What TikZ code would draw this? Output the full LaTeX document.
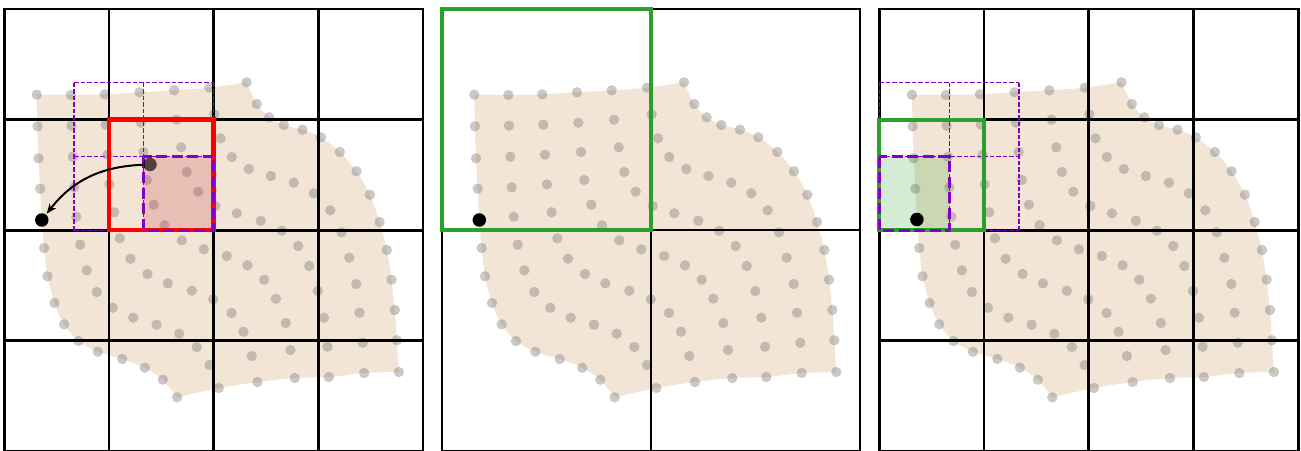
\documentclass[tikz,border=0pt]{standalone}
\usetikzlibrary{arrows.meta}
\definecolor{beige}{RGB}{243,229,213}
\definecolor{mutedred}{RGB}{190,40,50}
\definecolor{tabgreen}{RGB}{44,160,44}
\definecolor{dviolet}{RGB}{130,0,200}
\newcommand\blobdots{(474.3,94.7),(508.3,95),(542.3,94.3),(577,92.3),(611.7,90.3),(647,87.7),(684,82.3),
(475,126.3),(509,125.7),(543.3,124.7),(578.3,122.7),(614,119.7),(651.7,114.3),(694.3,104),
(476,158.3),(510.3,156.7),(545,154.7),(581,152),(618.7,147.3),(658,138.3),(706.7,117.3),
(477.7,188.7),(511.7,187.3),(547,184.3),(584.3,180),(624.3,172),(669.3,157),(721.3,125),
(479.3,220),(513.7,216.7),(551.7,212.3),(591.3,204.7),(635.7,191.7),(686.3,169),(740,129.7),
(481.7,248),(517.7,244.7),(557.3,238.3),(602,225.3),(652.7,206),(708.3,176),(758.3,137.3),
(485,276.3),(524.3,270.3),(568,258.7),(619.3,240.3),(674.3,213.3),(731.3,182.7),(777.3,152),
(492,303),(534.3,292),(585,274),(641.3,249.3),(698.3,220.7),(751.3,193.3),(794,171.3),
(501.7,324.3),(550.3,307.7),(605.3,283.3),(664.3,256),(719.3,230.7),(767.7,210.3),(807.3,194.7),
(516,341),(570.7,317.7),(629.3,290.7),(685,265.3),(735.7,246),(779,232.3),(817,222),
(535.3,351.7),(594,324.7),(650.7,299.3),(701.7,279.7),(746.7,266),(786.7,257.7),(824.3,250),
(559.7,359),(616.7,333.7),(669,313),(713.3,298.7),(755.3,291),(793.7,284),(829,279.7),
(582.3,367.7),(634.3,347),(681,331.7),(723.3,323),(761.3,317.7),(797,312.7),(832.3,310),
(600.3,379.7),(647,365),(689.3,356),(728,350),(765,346.7),(800.3,342.7),(834.3,340.3),
(614.7,397.3),(656.3,388),(695,382),(732.3,378),(766.3,377),(801.7,373),(836.3,372)}
\newcommand\drawblob{%
  \fill[beige]
    plot[smooth] coordinates {(474.3,94.7) (508.3,95) (542.3,94.3) (577,92.3) (611.7,90.3) (647,87.7) (684,82.3)}
    -- plot[smooth] coordinates {(684,82.3) (694.3,104) (706.7,117.3) (721.3,125) (740,129.7) (758.3,137.3) (777.3,152) (794,171.3) (807.3,194.7) (817,222) (824.3,250) (829,279.7) (832.3,310) (834.3,340.3) (836.3,372)}
    -- plot[smooth] coordinates {(836.3,372) (801.7,373) (766.3,377) (732.3,378) (695,382) (656.3,388) (614.7,397.3)}
    -- plot[smooth] coordinates {(614.7,397.3) (600.3,379.7) (582.3,367.7) (559.7,359) (535.3,351.7) (516,341) (501.7,324.3) (492,303) (485,276.3) (481.7,248) (479.3,220) (477.7,188.7) (476,158.3) (475,126.3) (474.3,94.7)}
    -- cycle;
  \foreach \p in \blobdots {\fill[graydot] \p circle[radius=5.2pt];}%
}
\begin{document}
\begin{tikzpicture}[x=1pt,y=-1pt,
  graydot/.style={fill=gray,fill opacity=0.42},
  gridA/.style={draw=black,line width=2.8pt,line cap=rect},
  gridB/.style={draw=black,line width=2pt,line cap=rect},
  thindash/.style={draw=dviolet,line width=1.2pt,dash pattern=on 4.5pt off 2pt},
  thickdash/.style={draw=dviolet,line width=3.2pt,dash pattern=on 11pt off 4.5pt},
  redbox/.style={draw=red,line width=4.5pt},
  greenbox/.style={draw=tabgreen,line width=4.2pt},
  blackdot/.style={circle,fill=black,inner sep=0pt,minimum size=13.5pt},
  darkdot/.style={circle,fill=black,fill opacity=0.65,inner sep=0pt,minimum size=13.5pt},
  arrowsty/.style={draw=black,line width=2pt,shorten >=1pt,-{Stealth[length=10pt,width=8pt,inset=3pt]}}]
\useasboundingbox (0,0) rectangle (1301,450);
\fill[white] (0,0) rectangle (1301,450);
\clip (0,0) rectangle (1301,450);
% ---------- panel 1 ----------
\begin{scope}[xshift=-437.5pt]\drawblob\end{scope}
\foreach \i in {0,...,4} {\draw[gridA] ({4.2+\i*104.7},9) -- ({4.2+\i*104.7},451.4);}
\foreach \j in {0,...,4} {\draw[gridA] (4.2,{9+\j*110.6}) -- (423,{9+\j*110.6});}
\foreach \x in {74,143.8,213.6} {\draw[thindash] (\x,82.8) -- (\x,230.2);}
\foreach \y in {82.8,156.5,230.2} {\draw[thindash] (74,\y) -- (213.6,\y);}
\draw[redbox] (108.9,119.6) rectangle (213.6,230.2);
\fill[mutedred,fill opacity=0.2] (143.8,156.5) rectangle (213.6,230.2);
\draw[thickdash] (143.8,156.5) rectangle (213.6,230.2);
\node[darkdot] (src) at (150,164.5) {};
\node[blackdot] (tgt1) at (41.8,220) {};
\draw[arrowsty] (src) to[bend right=25] (tgt1);
% ---------- panel 2 ----------
\drawblob
\foreach \i in {0,1,2} {\draw[gridB] ({441.7+\i*209.35},9) -- ({441.7+\i*209.35},451.4);}
\foreach \j in {0,1,2} {\draw[gridB] (441.7,{9+\j*221.2}) -- (860.4,{9+\j*221.2});}
\draw[greenbox] (441.7,9) rectangle (651.05,230.2);
\node[blackdot] (tgt2) at (479.3,220) {};
% ---------- panel 3 ----------
\begin{scope}[xshift=437.6pt]\drawblob\end{scope}
\foreach \i in {0,...,4} {\draw[gridA] ({879.3+\i*104.7},9) -- ({879.3+\i*104.7},451.4);}
\foreach \j in {0,...,4} {\draw[gridA] (879.3,{9+\j*110.6}) -- (1298.1,{9+\j*110.6});}
\foreach \x in {879.3,949.1,1018.9} {\draw[thindash] (\x,82.8) -- (\x,230.2);}
\foreach \y in {82.8,156.5,230.2} {\draw[thindash] (879.3,\y) -- (1018.9,\y);}
\draw[greenbox] (879.3,119.6) rectangle (984,230.2);
\fill[tabgreen,fill opacity=0.2] (879.3,156.5) rectangle (949.1,230.2);
\draw[thickdash] (879.3,156.5) rectangle (949.1,230.2);
\node[blackdot] (tgt3) at (916.9,219.5) {};
\end{tikzpicture}
\end{document}
